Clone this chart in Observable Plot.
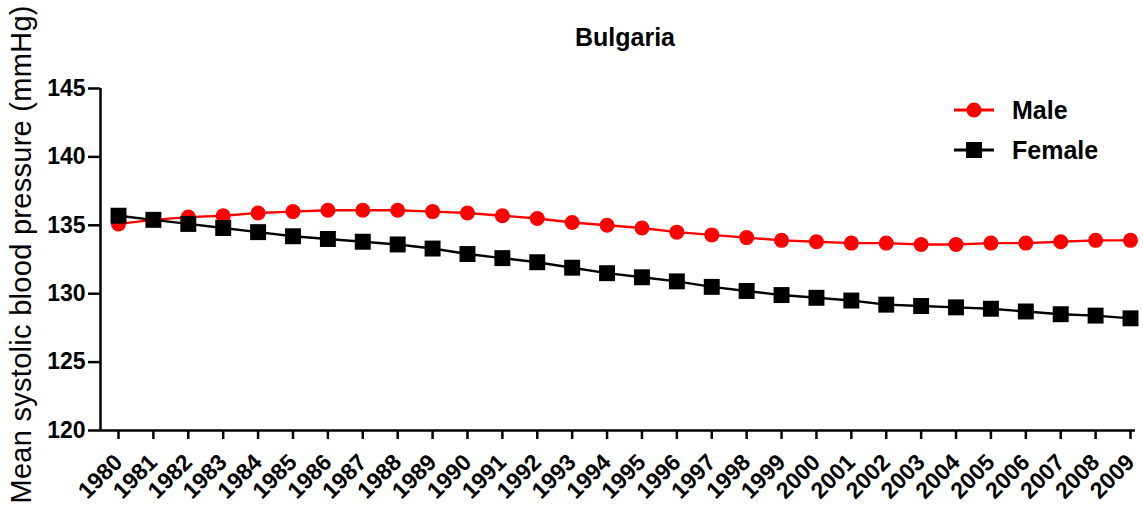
<!DOCTYPE html>
<html>
<head>
<meta charset="utf-8">
<script src="https://cdn.jsdelivr.net/npm/d3@7"></script>
<script src="https://cdn.jsdelivr.net/npm/@observablehq/plot@0.6"></script>
<style>
  html, body { margin: 0; padding: 0; background: white; }
  #wrap { position: relative; width: 1143px; height: 514px; font-family: "Liberation Sans", Arial, sans-serif; }
  #legend { position: absolute; left: 952px; top: 90px; font-weight: bold; font-size: 25px; color: black; }
  .item { display: flex; align-items: center; height: 40px; }
  .item svg { margin-right: 18px; }
</style>
</head>
<body>
<div id="wrap"></div>
<script>
const title = "Bulgaria";
const yLabel = "Mean systolic blood pressure (mmHg)";
const years = [1980,1981,1982,1983,1984,1985,1986,1987,1988,1989,1990,1991,1992,1993,1994,1995,1996,1997,1998,1999,2000,2001,2002,2003,2004,2005,2006,2007,2008,2009];
const yTicks = [120,125,130,135,140,145];
const maleValues = [135.1,135.4,135.6,135.7,135.9,136.0,136.1,136.1,136.1,136.0,135.9,135.7,135.5,135.2,135.0,134.8,134.5,134.3,134.1,133.9,133.8,133.7,133.7,133.6,133.6,133.7,133.7,133.8,133.9,133.9];
const femaleValues = [135.7,135.4,135.1,134.8,134.5,134.2,134.0,133.8,133.6,133.3,132.9,132.6,132.3,131.9,131.5,131.2,130.9,130.5,130.2,129.9,129.7,129.5,129.2,129.1,129.0,128.9,128.7,128.5,128.4,128.2];
const seriesNames = ["Male", "Female"];
const seriesColors = ["#ff0000", "#000000"];

const male = years.map((y, i) => ({year: y, value: maleValues[i]}));
const female = years.map((y, i) => ({year: y, value: femaleValues[i]}));
const xDomain = [1979.484, 2009.143];

const chart = Plot.plot({
  width: 1143,
  height: 514,
  marginLeft: 100,
  marginRight: 8,
  marginTop: 88,
  marginBottom: 84,
  style: {fontFamily: '"Liberation Sans", Arial, sans-serif', background: "white", color: "black", overflow: "visible"},
  x: {type: "linear", domain: xDomain},
  y: {domain: [120, 145]},
  marks: [
    Plot.axisY({ticks: yTicks, tickSize: 12, tickPadding: 3, fontSize: 23, fontWeight: "bold", label: null, strokeWidth: 2.5}),
    Plot.axisX({ticks: years, tickFormat: d => String(d), tickSize: 9, tickPadding: 19, tickRotate: -45, fontSize: 23, fontWeight: "bold", label: null, strokeWidth: 2.5}),
    Plot.ruleX([xDomain[0]], {stroke: "black", strokeWidth: 2.5}),
    Plot.ruleY([120], {stroke: "black", strokeWidth: 2.5}),
    Plot.text([yLabel], {frameAnchor: "left", textAnchor: "middle", rotate: -90, dx: -79, dy: -5, fontSize: 29, className: "ylabel"}),
    Plot.text([title], {frameAnchor: "top", lineAnchor: "top", dx: 7, dy: -60, fontSize: 25, fontWeight: "bold"}),
    Plot.line(male, {x: "year", y: "value", stroke: seriesColors[0], strokeWidth: 2.4}),
    Plot.dot(male, {x: "year", y: "value", fill: seriesColors[0], r: 7.5, symbol: "circle"}),
    Plot.line(female, {x: "year", y: "value", stroke: seriesColors[1], strokeWidth: 2.4}),
    Plot.dot(female, {x: "year", y: "value", fill: seriesColors[1], r: 9, symbol: "square"})
  ]
});

d3.select(chart).selectAll("g.ylabel text").attr("textLength", 498).attr("lengthAdjust", "spacing");

const wrap = document.getElementById("wrap");
wrap.appendChild(chart);

const legend = document.createElement("div");
legend.id = "legend";
seriesNames.forEach((name, i) => {
  const item = document.createElement("div");
  item.className = "item";
  const marker = i === 0
    ? `<circle cx="22" cy="10" r="7.5" fill="${seriesColors[i]}"/>`
    : `<rect x="14" y="2" width="16" height="16" fill="${seriesColors[i]}"/>`;
  item.innerHTML = `<svg width="42" height="20"><line x1="2" x2="42" y1="10" y2="10" stroke="${seriesColors[i]}" stroke-width="3"/>${marker}</svg><span>${name}</span>`;
  legend.appendChild(item);
});
wrap.appendChild(legend);
</script>
</body>
</html>
